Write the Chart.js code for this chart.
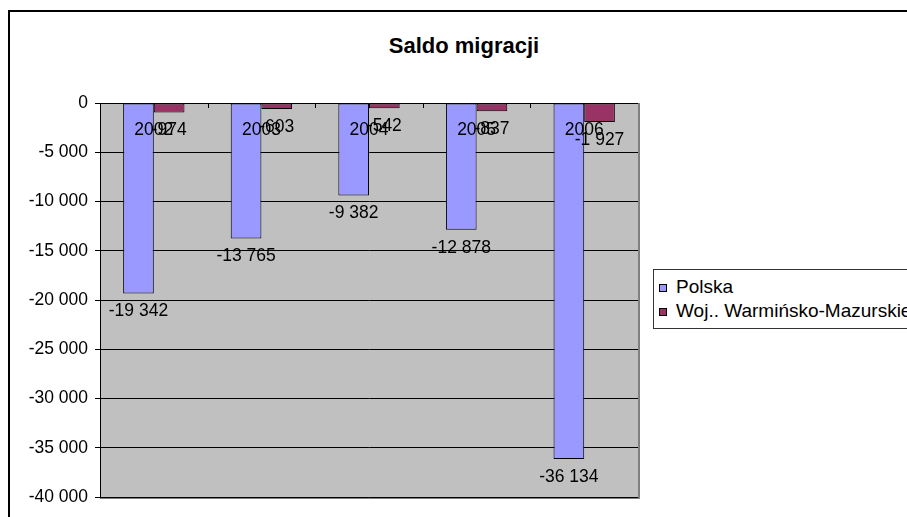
<!DOCTYPE html>
<html lang="pl">
  <head>
    <meta charset="UTF-8" />
    <title>Saldo migracji</title>
    <style>
      html, body { margin: 0; background: #fff; overflow: hidden; font-family: "Liberation Sans", Arial, sans-serif; }
      #wrap { position: relative; width: 907px; height: 517px; overflow: hidden; }
      #frame { position: absolute; left: 8px; top: 10px; width: 1000px; height: 600px; border: 2px solid #000; }
      #title { position: absolute; left: 0; width: 928px; top: 33px; text-align: center; font-weight: bold; font-size: 22px; }
      #legend { position: absolute; left: 653px; top: 269px; width: 320px; height: 58px; border: 1px solid #333; background: #fff; font-size: 19px; }
      #legend div { height: 24px; line-height: 24px; padding-left: 5px; white-space: nowrap; }
      #legend span.box { display: inline-block; width: 6px; height: 6px; border: 1px solid #000; margin-right: 9px; vertical-align: 1px; }
      canvas { position: absolute; left: 0; top: 0; }
    </style>
  </head>
  <body>
    <div id="wrap">
      <div id="frame"></div>
      <div id="title">Saldo migracji</div>
      <canvas id="myChart" width="907" height="517"></canvas>
      <div id="legend"></div>
    </div>

    <script src="https://cdn.jsdelivr.net/npm/chart.js"></script>
    <script>
      const years = ["2002", "2003", "2004", "2005", "2006"];
      const polska = [-19342, -13765, -9382, -12878, -36134];
      const warmMaz = [-974, -603, -542, -837, -1927];
      const seriesNames = ["Polska", "Woj.. Warmińsko-Mazurskie"];
      const seriesColors = ["#9999FF", "#993366"];

      // "-19 342" style, space as thousands separator
      function fmt(v) {
        const s = String(Math.abs(v)).replace(/\B(?=(\d{3})+(?!\d))/g, " ");
        return (v < 0 ? "-" : "") + s;
      }

      Chart.defaults.font.family = '"Liberation Sans", Arial, sans-serif';
      Chart.defaults.color = "#000";

      const plotBg = {
        id: "plotBg",
        beforeDraw(chart) {
          const a = chart.chartArea;
          const ctx = chart.ctx;
          ctx.save();
          ctx.fillStyle = "#C0C0C0";
          ctx.fillRect(a.left, a.top, a.right - a.left, a.bottom - a.top);
          ctx.strokeStyle = "#808080";
          ctx.lineWidth = 2;
          ctx.beginPath();
          ctx.moveTo(a.right + 1, a.top);
          ctx.lineTo(a.right + 1, a.bottom + 1);
          ctx.lineTo(a.left, a.bottom + 1);
          ctx.stroke();
          ctx.restore();
        },
      };

      const labelsPlugin = {
        id: "labelsPlugin",
        afterDatasetsDraw(chart) {
          const ctx = chart.ctx;
          const x = chart.scales.x;
          const y = chart.scales.y;
          const y0 = y.getPixelForValue(0);
          const a = chart.chartArea;
          ctx.save();
          // category tick marks on the zero line
          ctx.strokeStyle = "#000";
          ctx.lineWidth = 1;
          const step = (a.right - a.left) / years.length;
          for (let i = 1; i < years.length; i++) {
            const px = Math.round(a.left + i * step) + 0.5;
            ctx.beginPath();
            ctx.moveTo(px, y0);
            ctx.lineTo(px, y0 + 5);
            ctx.stroke();
          }
          ctx.font = '17.5px "Liberation Sans", Arial, sans-serif';
          ctx.fillStyle = "#000";
          ctx.textAlign = "center";
          ctx.textBaseline = "middle";
          // year labels under the zero axis
          years.forEach((yr, i) => {
            ctx.fillText(yr, x.getPixelForValue(i), y0 + 27);
          });
          // data labels below each bar end
          chart.data.datasets.forEach((ds, di) => {
            const meta = chart.getDatasetMeta(di);
            meta.data.forEach((el, i) => {
              ctx.fillText(fmt(ds.data[i]), el.x, el.y + 18);
            });
          });
          ctx.restore();
        },
      };

      const ctx = document.getElementById("myChart").getContext("2d");
      new Chart(ctx, {
        type: "bar",
        data: {
          labels: years,
          datasets: [
            {
              label: seriesNames[0],
              data: polska,
              backgroundColor: seriesColors[0],
              borderColor: "#000",
              borderWidth: 1,
              borderSkipped: false,
              categoryPercentage: 0.57,
              barPercentage: 1.0,
            },
            {
              label: seriesNames[1],
              data: warmMaz,
              backgroundColor: seriesColors[1],
              borderColor: "#000",
              borderWidth: 1,
              borderSkipped: false,
              categoryPercentage: 0.57,
              barPercentage: 1.0,
            },
          ],
        },
        options: {
          responsive: false,
          animation: false,
          layout: { padding: { left: 0, top: 103, right: 269, bottom: 20 } },
          plugins: {
            legend: { display: false },
            title: { display: false },
            tooltip: { enabled: false },
          },
          scales: {
            x: { display: false },
            y: {
              min: -40000,
              max: 0,
              ticks: {
                stepSize: 5000,
                padding: 7,
                font: { size: 17.5 },
                color: "#000",
                callback: (v) => fmt(v),
              },
              grid: { color: "#000", lineWidth: 1, tickLength: 5 },
              border: { color: "#000", width: 1 },
              afterFit(scale) {
                scale.width = 100;
              },
            },
          },
        },
        plugins: [plotBg, labelsPlugin],
      });

      // legend as html, built from the series arrays
      const leg = document.getElementById("legend");
      seriesNames.forEach((name, i) => {
        const row = document.createElement("div");
        const box = document.createElement("span");
        box.className = "box";
        box.style.background = seriesColors[i];
        row.appendChild(box);
        row.appendChild(document.createTextNode(name));
        leg.appendChild(row);
      });
      leg.firstChild.style.marginTop = "5px";
    </script>
  </body>
</html>
